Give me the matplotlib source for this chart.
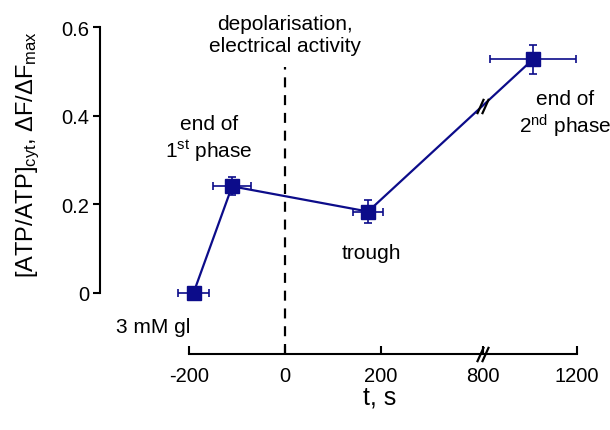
import matplotlib
matplotlib.use('Agg')
import matplotlib.pyplot as plt
import matplotlib.transforms as mtrans
import numpy as np

plt.rcParams['font.family'] = ['Liberation Sans', 'DejaVu Sans']
plt.rcParams['mathtext.fontset'] = 'custom'
plt.rcParams['mathtext.rm'] = 'Liberation Sans'
plt.rcParams['mathtext.it'] = 'Liberation Sans:italic'

# data (time in s, normalised ATP/ADP signal)
t = [-190, -110, 173, 1013]
ratio = [0.0, 0.24, 0.183, 0.527]
t_err = [32, 40, 31, 181]
ratio_err = [0.005, 0.02, 0.025, 0.033]

xticks = [-200, 0, 200, 800, 1200]
yticks = [0, 0.2, 0.4, 0.6]
ytick_labels = ['0', '0.2', '0.4', '0.6']

# broken time axis: linear up to the break, compressed after 800 s
BRK = 412
RESUME = 800
K = 0.49


def fwd(x):
    x = np.asarray(x, dtype=float)
    return np.where(x < RESUME, np.minimum(x, BRK), BRK + (x - RESUME) * K)


def inv(u):
    u = np.asarray(u, dtype=float)
    return np.where(u < BRK, u, RESUME + (u - BRK) / K)


navy = '#0c0c8a'
axis_y = -0.14

fig = plt.figure(figsize=(6.1, 4.31), dpi=100)
ax = fig.add_axes([100 / 610, 0.165, 500 / 610, 0.812])
ax.set_xscale('function', functions=(fwd, inv))
ax.set_xlim(-385, 1298)
ax.set_ylim(-0.15, 0.641)

ax.plot(t, ratio, color=navy, lw=1.6, zorder=3)
ax.errorbar(t, ratio, xerr=t_err, yerr=ratio_err, fmt='none', ecolor=navy,
            elinewidth=1.2, capsize=3, capthick=1.2, zorder=3)
ax.plot(t, ratio, ls='none', marker='s', ms=10, color=navy, zorder=4)

# depolarisation marker
ax.vlines(0, axis_y, 0.51, colors='k', lw=1.6, linestyles=(0, (4.5, 3.5)))

# spines
for s in ['top', 'right']:
    ax.spines[s].set_visible(False)
ax.spines['left'].set_bounds(0, 0.6)
ax.spines['left'].set_linewidth(1.5)
ax.spines['bottom'].set_position(('data', axis_y))
ax.spines['bottom'].set_bounds(-200, 1200)
ax.spines['bottom'].set_linewidth(1.5)

ax.set_xticks(xticks)
ax.set_xticklabels([str(v) for v in xticks])
ax.set_yticks(yticks)
ax.set_yticklabels(ytick_labels)
ax.tick_params(axis='x', direction='in', length=6, width=1.5, pad=8, labelsize=14.5)
ax.tick_params(axis='y', direction='out', length=5, width=1.5, pad=3, labelsize=14.5)
ax.xaxis.set_minor_locator(matplotlib.ticker.NullLocator())

# break marks on axis and on the data line
slash = [(-0.45, -1), (0.45, 1)]
u3, u4 = fwd(t[2]), fwd(t[3])
y_brk = ratio[2] + (BRK - u3) / (u4 - u3) * (ratio[3] - ratio[2])
for dx in (-2.5, 2.5):
    tr = mtrans.offset_copy(ax.transData, fig=fig, x=dx, y=0, units='dots')
    ax.plot([BRK], [axis_y], ls='none', marker=slash, ms=11, mew=1.6,
            color='k', transform=tr, zorder=5, clip_on=False)
    ax.plot([BRK], [y_brk], ls='none', marker=slash, ms=11, mew=1.6,
            color='k', transform=tr, zorder=5)

# annotations
kw = dict(ha='center', va='center', fontsize=15)
ax.text(0, 0.583, 'depolarisation,\nelectrical activity', **kw)
ax.text(-158, 0.348, 'end of\n1$^{\\rm st}$ phase', **kw)
ax.text(181, 0.091, 'trough', **kw)
ax.text(-275, -0.077, '3 mM gl', **kw)
ax.text(1150, 0.403, 'end of\n2$^{\\rm nd}$ phase', **kw)

fig.text(28 / 610, 1 - 155 / 431, '[ATP/ATP]$_{\\rm cyt}$, \u0394F/\u0394F$_{\\rm max}$',
         rotation=90, ha='center', va='center', fontsize=17)
fig.text(380 / 610, 1 - 398 / 431, 't, s', ha='center', va='center', fontsize=18)

fig.savefig('out.png', dpi=100)
